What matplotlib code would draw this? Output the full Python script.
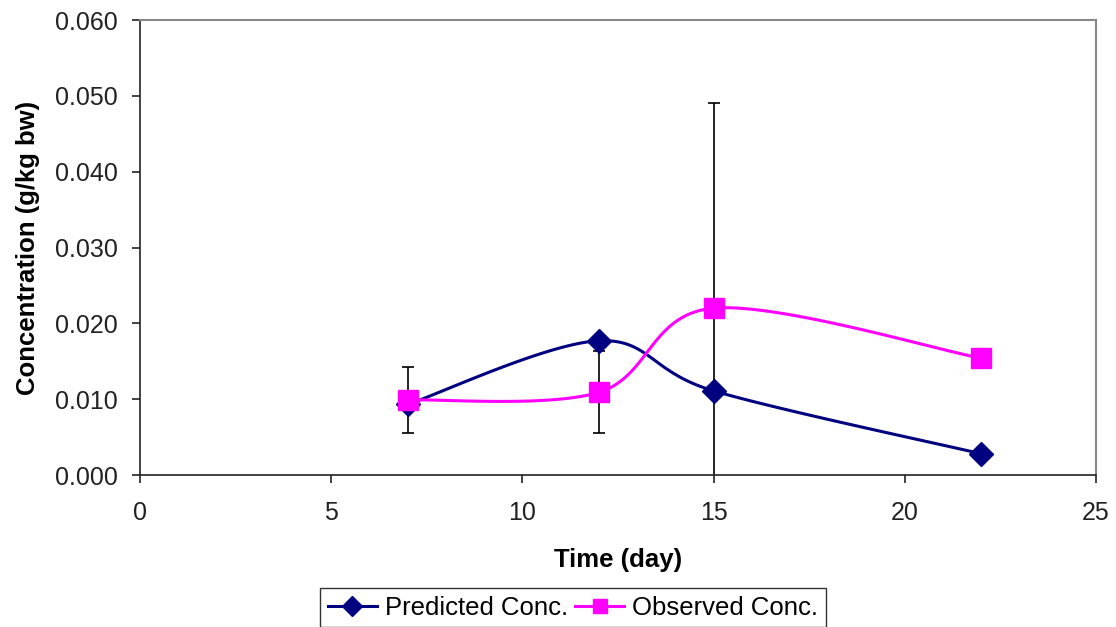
import numpy as np
import matplotlib.pyplot as plt
from matplotlib.ticker import FormatStrFormatter

plt.rcParams['font.family'] = ['Liberation Sans', 'DejaVu Sans']

# dados
dias = np.array([7, 12, 15, 22])
conc_pred = np.array([0.0093, 0.0177, 0.0111, 0.0028])
conc_obs = np.array([0.0099, 0.0109, 0.0220, 0.0154])
desvio_obs = np.array([0.0044, 0.0054, 0.0270, np.nan])


def suaviza(x, y, n=40):
    # curva suavizada tipo Excel (Bezier / Catmull-Rom)
    p = np.column_stack([x, y]).astype(float)
    xs, ys = [], []
    for i in range(len(p) - 1):
        p0 = p[i - 1] if i > 0 else p[i]
        p1 = p[i]
        p2 = p[i + 1]
        p3 = p[i + 2] if i + 2 < len(p) else p[i + 1]
        c1 = p1 + (p2 - p0) / 6
        c2 = p2 - (p3 - p1) / 6
        t = np.linspace(0, 1, n)[:, None]
        b = (1 - t)**3 * p1 + 3 * (1 - t)**2 * t * c1 + 3 * (1 - t) * t**2 * c2 + t**3 * p2
        xs.extend(b[:, 0])
        ys.extend(b[:, 1])
    return np.array(xs), np.array(ys)


fig = plt.figure(figsize=(11.16, 6.27), dpi=100)
ax = fig.add_axes([0.1254, 0.2424, 0.8566, 0.7257])

ax.errorbar(dias, conc_obs, yerr=desvio_obs, fmt='none', ecolor='black',
            elinewidth=1.2, capsize=4.5, capthick=1.2, zorder=1)

xp, yp = suaviza(dias, conc_pred)
ax.plot(xp, yp, color='#000080', lw=2.2, zorder=2)
ax.plot(dias, conc_pred, 'D', color='#000080', ms=12, zorder=3)
l1, = ax.plot([], [], '-D', color='#000080', lw=2.2, ms=10, label='Predicted Conc.')

xo, yo = suaviza(dias, conc_obs)
ax.plot(xo, yo, color='#FF00FF', lw=2.2, zorder=4)
ax.plot(dias, conc_obs, 's', color='#FF00FF', ms=14, zorder=5)
l2, = ax.plot([], [], '-s', color='#FF00FF', lw=2.2, ms=10, label='Observed Conc.')

ax.set_xlim(0, 25)
ax.set_ylim(0, 0.060)
ax.set_xticks([0, 5, 10, 15, 20, 25])
ax.set_yticks(np.arange(0, 0.061, 0.010))
ax.yaxis.set_major_formatter(FormatStrFormatter('%.3f'))
ax.tick_params(labelsize=18, length=6, width=1.2, direction='out', colors='#222222')
ax.tick_params(axis='y', pad=10)
ax.tick_params(axis='x', pad=13)

for s in ['top', 'right']:
    ax.spines[s].set_color('#888888')
    ax.spines[s].set_linewidth(1.5)
for s in ['left', 'bottom']:
    ax.spines[s].set_color('#222222')
    ax.spines[s].set_linewidth(1.2)

ax.set_xlabel('Time (day)', fontsize=18.5, fontweight='bold', labelpad=16)
ax.set_ylabel('Concentration (g/kg bw)', fontsize=18.5, fontweight='bold', labelpad=11)

fig.legend(handles=[l1, l2], loc='upper center', bbox_to_anchor=(0.5134, 0.0622),
           ncol=2, fontsize=18.5, frameon=True, fancybox=False, edgecolor='black',
           handlelength=1.9, handletextpad=0.3, columnspacing=0.3, borderpad=0.3,
           borderaxespad=0)

fig.savefig('out.png', dpi=100)
